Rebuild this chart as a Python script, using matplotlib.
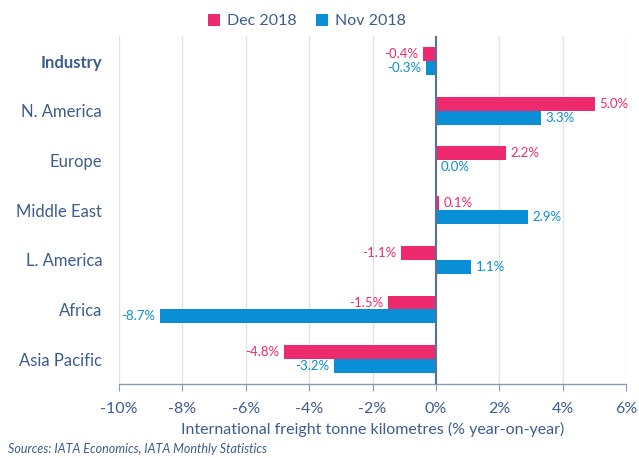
import matplotlib.pyplot as plt
import numpy as np

plt.rcParams['font.family'] = ['Lato', 'DejaVu Sans']

categories = ["Industry", "N. America", "Europe", "Middle East", "L. America", "Africa", "Asia Pacific"]
dec_2018 = [-0.4, 5.0, 2.2, 0.1, -1.1, -1.5, -4.8]
nov_2018 = [-0.3, 3.3, 0.0, 2.9, 1.1, -8.7, -3.2]
x_ticks = [-10, -8, -6, -4, -2, 0, 2, 4, 6]

PINK = "#EE2A6E"
BLUE = "#0A8FD6"
TEXT = "#3E5C8E"
GRID = "#E3E3E3"

fig = plt.figure(figsize=(6.39, 4.58), dpi=100)
ax = fig.add_axes([0.186, 0.1616, 0.794, 0.7594])

y = np.arange(len(categories))
h = 0.28
ax.barh(y - h / 2, dec_2018, height=h, color=PINK, label="Dec 2018", zorder=3)
ax.barh(y + h / 2, nov_2018, height=h, color=BLUE, label="Nov 2018", zorder=3)

for yi, v in zip(y, dec_2018):
    off = 0.15 if v >= 0 else -0.15
    ax.text(v + off, yi - h / 2, f"{v:.1f}%", color=PINK, fontsize=9.5,
            ha="left" if v >= 0 else "right", va="center")
for yi, v in zip(y, nov_2018):
    off = 0.15 if v >= 0 else -0.15
    ax.text(v + off, yi + h / 2, f"{v:.1f}%", color=BLUE, fontsize=9.5,
            ha="left" if v >= 0 else "right", va="center")

ax.set_xlim(-10, 6)
ax.set_ylim(len(categories) - 0.5, -0.5)
ax.set_xticks(x_ticks)
ax.set_xticklabels([f"{t}%" for t in x_ticks], color=TEXT, fontsize=11.5)
ax.set_yticks(y)
ax.set_yticklabels(categories, color=TEXT, fontsize=12)
ax.get_yticklabels()[0].set_fontweight("bold")
ax.tick_params(axis="y", length=0, pad=12)
ax.tick_params(axis="x", length=5, color="#8A9BB8", pad=8)

ax.grid(axis="x", color=GRID, linewidth=1, zorder=0)
ax.axvline(0, color="#5A6F9C", linewidth=1.5, zorder=4)
for s in ["top", "right", "left"]:
    ax.spines[s].set_visible(False)
ax.spines["bottom"].set_color("#8A9BB8")
ax.spines["bottom"].set_linewidth(1)

ax.set_xlabel("International freight tonne kilometres (% year-on-year)", color=TEXT,
              fontsize=11.5, labelpad=4)

ax.legend(loc="lower center", bbox_to_anchor=(0.37, 1.0), ncol=2, frameon=False,
          fontsize=11.5, handlelength=0.8, handleheight=0.8, handletextpad=0.4,
          columnspacing=1.2, labelcolor=TEXT, borderaxespad=0.1)

fig.text(0.012, 0.012, "Sources: IATA Economics, IATA Monthly Statistics", color=TEXT,
         fontsize=9, style="italic")

fig.savefig("out.png", dpi=100)
